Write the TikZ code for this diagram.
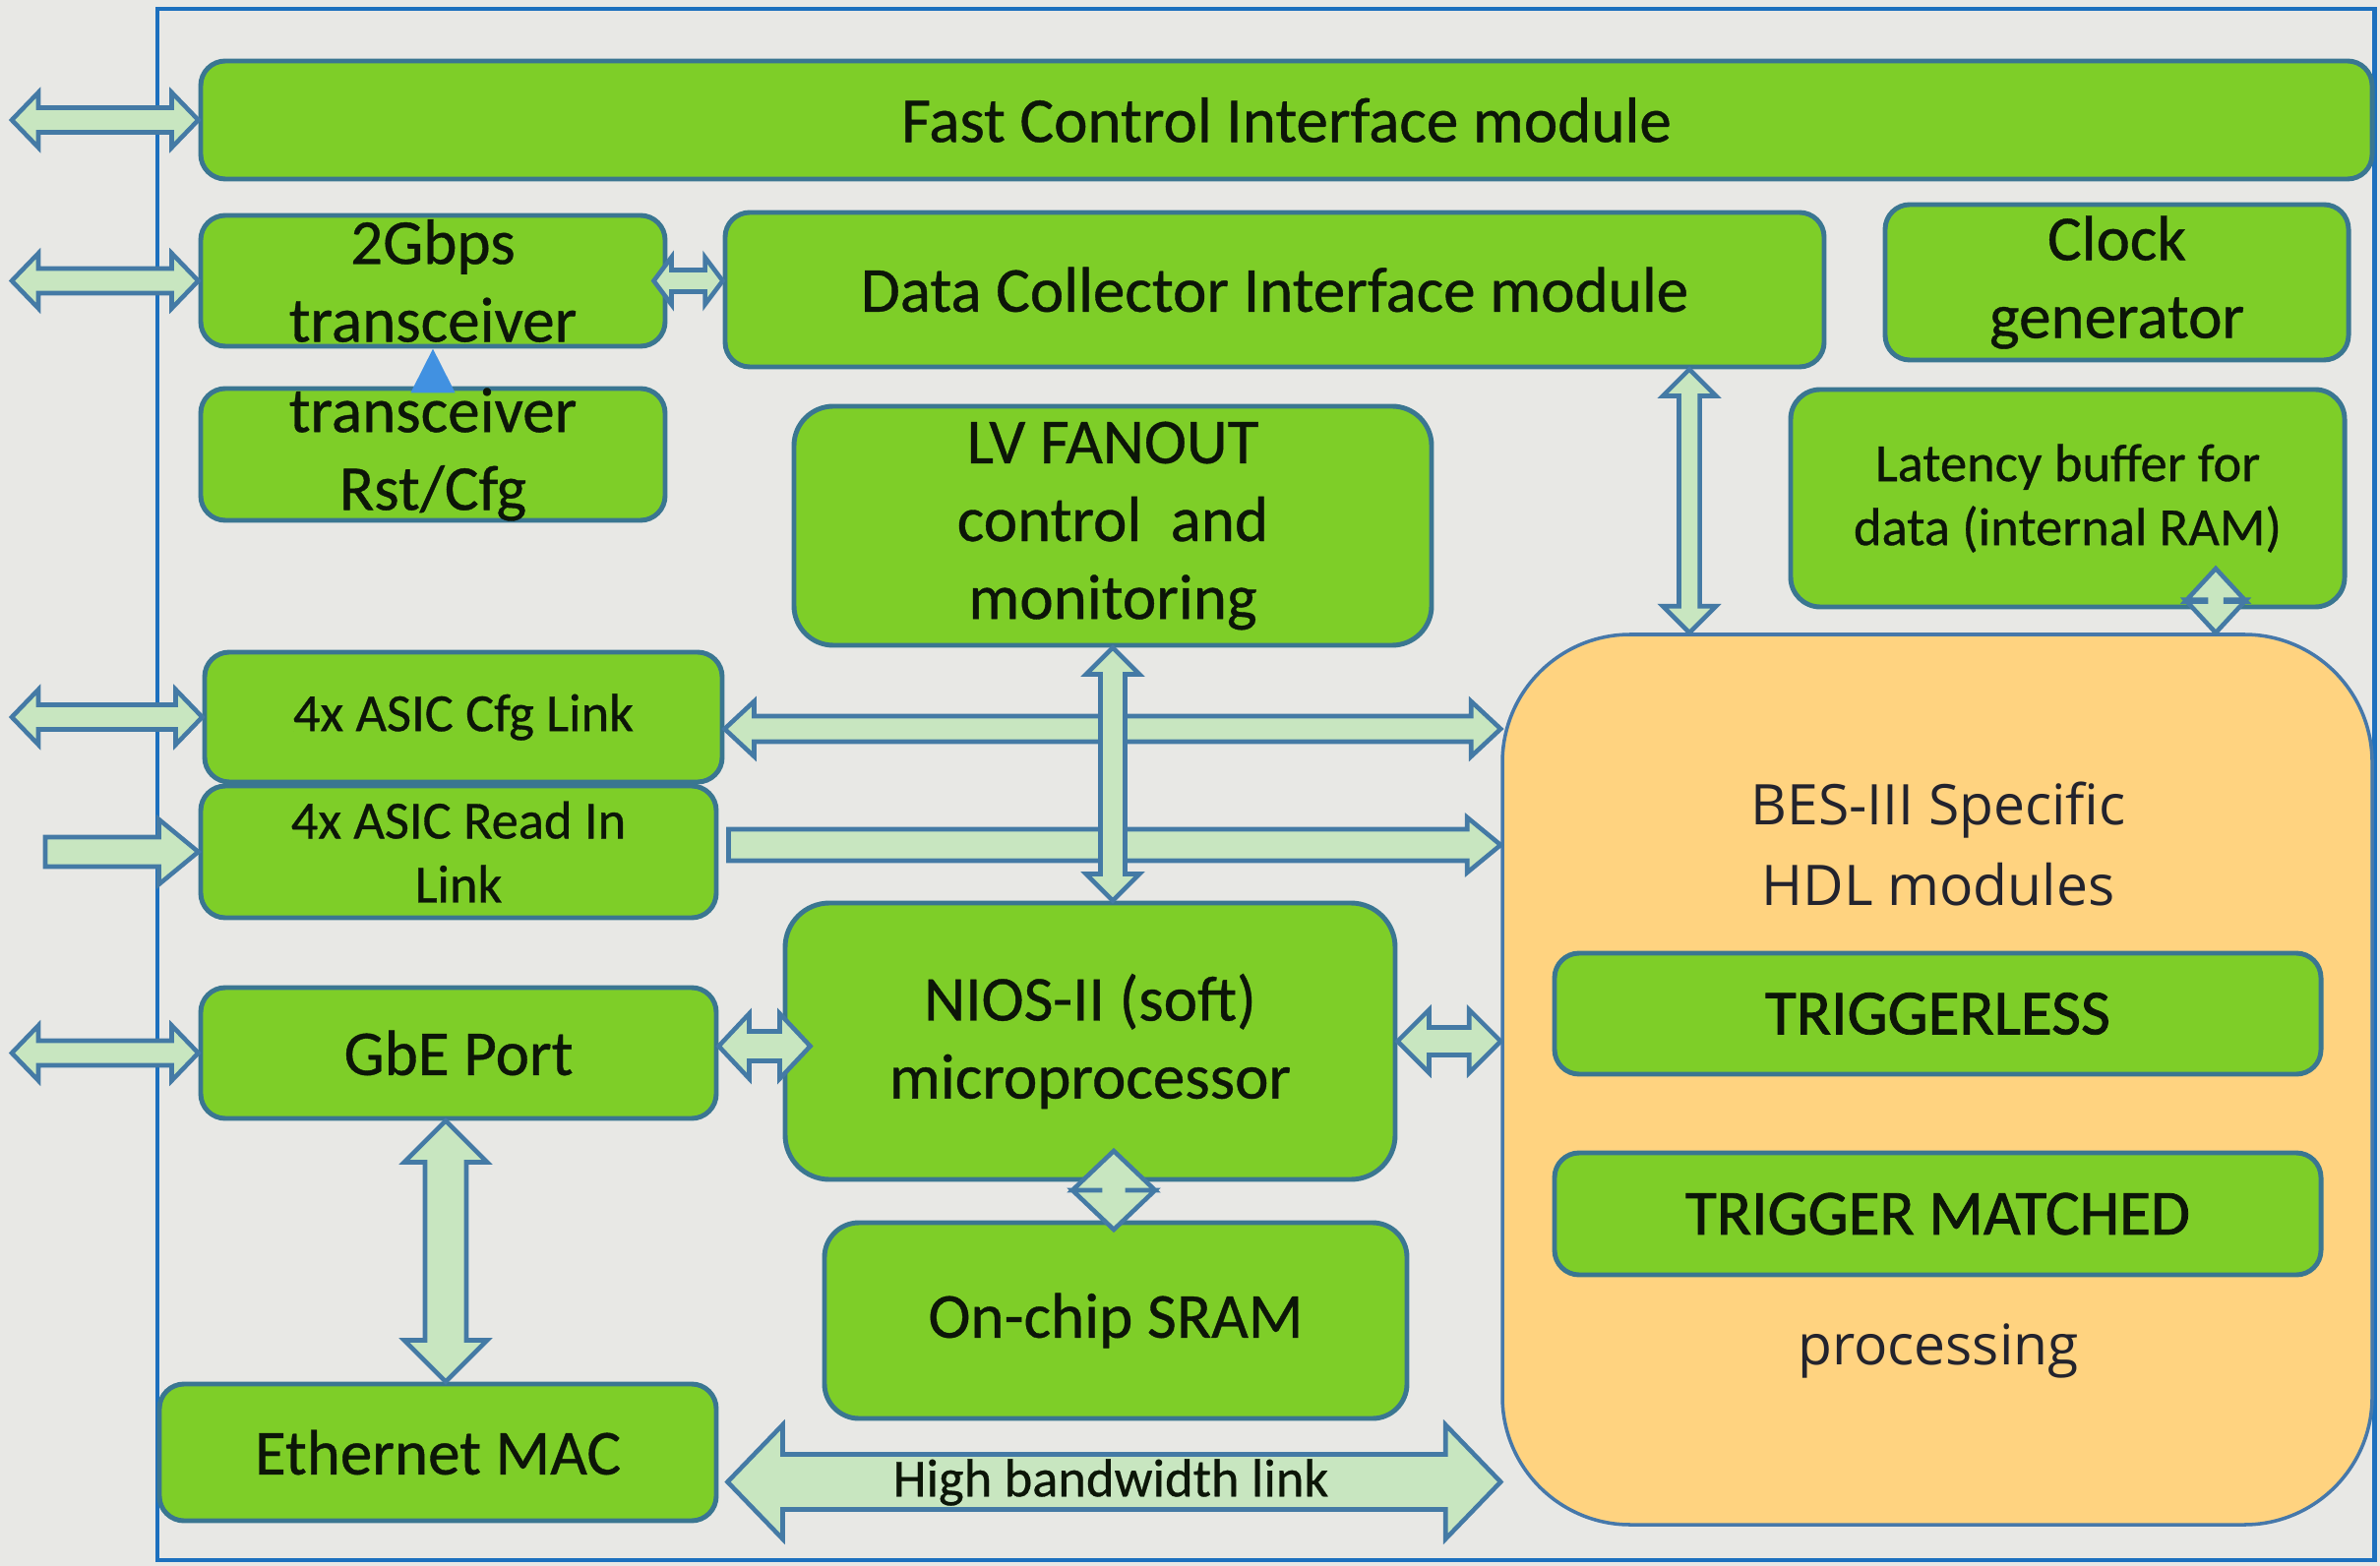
\documentclass[tikz,border=0pt]{standalone}
\usepackage{fontspec}
\setmainfont{Carlito}
\newfontfamily\osans{Open Sans}
\newfontfamily\boxfont[FakeBold=0.6]{Carlito}
\newfontfamily\trigfont[FakeBold=1.2]{Carlito}
\usetikzlibrary{calc,fit,arrows.meta}

\definecolor{bgc}{RGB}{232,232,229}
\definecolor{gfill}{RGB}{126,206,40}
\definecolor{gline}{RGB}{58,118,145}
\definecolor{ofill}{RGB}{255,211,128}
\definecolor{oline}{RGB}{70,120,170}
\definecolor{afill}{RGB}{200,230,192}
\definecolor{aline}{RGB}{68,122,165}
\definecolor{fblue}{RGB}{28,112,190}
\definecolor{tblue}{RGB}{65,145,225}
\definecolor{txt}{RGB}{12,22,8}
\definecolor{otxtc}{RGB}{35,35,45}

% horizontal double block arrow: #1 left point, #2 right point (x only), #3 shaft half, #4 head half, #5 head length
\newcommand\HArrow[5]{%
  \draw[blockarrow] let \p1=#1, \p2=#2 in
   (\x1,\y1) -- (\x1+#5,\y1+#4) -- (\x1+#5,\y1+#3) -- (\x2-#5,\y1+#3) -- (\x2-#5,\y1+#4) -- (\x2,\y1)
   -- (\x2-#5,\y1-#4) -- (\x2-#5,\y1-#3) -- (\x1+#5,\y1-#3) -- (\x1+#5,\y1-#4) -- cycle;}
% vertical double block arrow: #1 top point, #2 bottom point (y only)
\newcommand\VArrow[5]{%
  \draw[blockarrow] let \p1=#1, \p2=#2 in
   (\x1,\y1) -- (\x1+#4,\y1-#5) -- (\x1+#3,\y1-#5) -- (\x1+#3,\y2+#5) -- (\x1+#4,\y2+#5) -- (\x1,\y2)
   -- (\x1-#4,\y2+#5) -- (\x1-#3,\y2+#5) -- (\x1-#3,\y1-#5) -- (\x1-#4,\y1-#5) -- cycle;}
% single right block arrow: #1 flat start, #2 tip (x only)
\newcommand\SArrow[5]{%
  \draw[blockarrow] let \p1=#1, \p2=#2 in
   (\x1,\y1+#3) -- (\x2-#5,\y1+#3) -- (\x2-#5,\y1+#4) -- (\x2,\y1) -- (\x2-#5,\y1-#4)
   -- (\x2-#5,\y1-#3) -- (\x1,\y1-#3) -- cycle;}

\begin{document}
\begin{tikzpicture}[x=0.01cm,y=-0.01cm,
  gbox/.style={draw=gline, fill=gfill, line width=1.4pt, rounded corners=0.25cm, inner sep=0pt},
  obox/.style={draw=oline, fill=ofill, line width=1pt, rounded corners=1.3cm, inner sep=0pt},
  btxt/.style={font=\boxfont\fontsize{18.5}{22.5}\selectfont, text=txt, align=center, inner sep=0pt},
  ttxt/.style={font=\trigfont\fontsize{18.5}{22.5}\selectfont, text=txt, align=center, inner sep=0pt},
  stxt/.style={font=\boxfont\fontsize{15.5}{18.5}\selectfont, text=txt, align=center, inner sep=0pt},
  otxt/.style={font=\osans\fontsize{16.2}{23.3}\selectfont, text=otxtc, align=center, inner sep=0pt},
  blockarrow/.style={draw=aline, fill=afill, line width=1.3pt, line join=miter}]

\useasboundingbox (0,0) rectangle (2419,1592);
\fill[bgc] (0,0) rectangle (2419,1592);
\draw[fblue, line width=1.4pt] (160,9) rectangle (2413,1586);

% boxes
\node[gbox, fit={(204,62) (2411,182)}, label={[btxt]center:Fast Control Interface module}] (fci) {};
\node[gbox, fit={(204,219) (676,352)}, label={[btxt]center:{2Gbps\\transceiver}}] (tx) {};
\node[gbox, fit={(737,216) (1854,373)}, label={[btxt]center:Data Collector Interface module}] (dci) {};
\node[gbox, fit={(1916,208) (2387,366)}, label={[btxt]center:{Clock\\generator}}] (clk) {};
\node[gbox, fit={(204,395) (676,529)}, label={[btxt]center:{transceiver\\Rst/Cfg}}] (rst) {};
\node[gbox, rounded corners=0.4cm, fit={(807,413) (1455,656)}, label={[btxt]center:{LV FANOUT\\control\ \ and\\monitoring}}] (lv) {};
\node[gbox, rounded corners=0.3cm, fit={(1820,396) (2383,617)}, label={[stxt]center:{Latency buffer for\\data (internal RAM)}}] (lat) {};
\node[gbox, fit={(208,663) (734,795)}, label={[stxt]center:4x ASIC Cfg Link}] (cfg) {};
\node[gbox, fit={(204,799) (728,933)}, label={[stxt]center:{4x ASIC Read In\\Link}}] (rin) {};
\node[gbox, fit={(204,1004) (728,1137)}, label={[btxt]center:GbE Port}] (gbe) {};
\node[gbox, rounded corners=0.45cm, fit={(798,918) (1418,1199)}, label={[btxt]center:{NIOS-II (soft)\\microprocessor}}] (nios) {};
\node[gbox, rounded corners=0.35cm, fit={(838,1243) (1430,1442)}, label={[btxt]center:On-chip SRAM}] (sram) {};
\node[gbox, fit={(162,1407) (728,1546)}, label={[btxt]center:Ethernet MAC}] (mac) {};
\node[obox, fit={(1527,645) (2411,1550)}] (bes) {};
\node[otxt] (bestitle) at (1970,858) {BES-III Specific\\HDL modules};
\node[gbox, fit={(1580,969) (2359,1092)}, label={[ttxt]center:TRIGGERLESS}] (tl) {};
\node[gbox, fit={(1580,1172) (2359,1296)}, label={[ttxt]center:TRIGGER MATCHED}] (tm) {};
\node[otxt] (besproc) at (1970,1373) {processing};

% helper coordinates
\coordinate (lx) at (12,0);
\coordinate (lx2) at (46,0);
\coordinate (dcx) at (1717,0);
\coordinate (latx) at (2252,578);
\coordinate (dm1) at (1132,1170);
\coordinate (dm2) at (1132,1250);
\coordinate (gmx) at (453,0);

% external arrows
\HArrow{(lx |- fci.west)}{(fci.west)}{0.125cm}{0.28cm}{0.27cm}
\HArrow{(lx |- tx.west)}{(tx.west)}{0.125cm}{0.28cm}{0.27cm}
\HArrow{(lx |- cfg.west)}{(cfg.west)}{0.125cm}{0.28cm}{0.27cm}
\HArrow{(lx |- gbe.west)}{(gbe.west)}{0.125cm}{0.28cm}{0.27cm}
\SArrow{(lx2 |- rin.west)}{(rin.west)}{0.15cm}{0.33cm}{0.4cm}

% internal arrows
\HArrow{($(tx.east)+(-14,0)$)}{(dci.west)}{0.11cm}{0.24cm}{0.18cm}
\HArrow{($(cfg.east)+(0,12)$)}{(bes.west)}{0.13cm}{0.28cm}{0.3cm}
\SArrow{($(rin.east)+(10,-7)$)}{(bes.west)}{0.16cm}{0.28cm}{0.34cm}
\VArrow{(lv.south)}{(nios.north)}{0.125cm}{0.27cm}{0.27cm}
\VArrow{(dci.south -| dcx)}{(bes.north -| dcx)}{0.105cm}{0.27cm}{0.27cm}
\VArrow{(latx)}{(bes.north -| latx)}{0.1cm}{0.31cm}{0.335cm}
\HArrow{($(gbe.east)+(0,-7)$)}{($(nios.west)+(28,0)$)}{0.15cm}{0.33cm}{0.31cm}
\HArrow{(nios.east)}{(bes.west)}{0.14cm}{0.32cm}{0.32cm}
\VArrow{(dm1)}{(dm2)}{0.14cm}{0.42cm}{0.4cm}
\VArrow{(gbe.south -| gmx)}{(mac.north -| gmx)}{0.21cm}{0.42cm}{0.42cm}
\HArrow{($(mac.east)+(9,30)$)}{(bes.west)}{0.28cm}{0.58cm}{0.56cm}
\node[stxt] (hbl) at (1129,1507) {High bandwidth link};

% small blue arrow
\draw[tblue, line width=1.5pt, -{Triangle[length=0.45cm,width=0.44cm]}] (rst.north) -- (tx.south);
\end{tikzpicture}
\end{document}
